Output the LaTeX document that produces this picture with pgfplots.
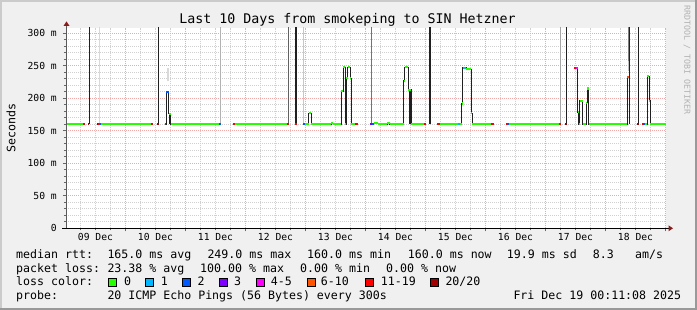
\documentclass[border=0pt]{standalone}
\usepackage{pgfplots}
\pgfplotsset{compat=1.18}
\usepackage{fontspec}
\setmainfont{DejaVu Sans Mono}
\definecolor{bgc}{HTML}{F0F0F0}
\definecolor{shadea}{HTML}{CBCBCB}
\definecolor{shadeb}{HTML}{999999}
\definecolor{arrowc}{HTML}{8B1A1A}
\definecolor{l0}{HTML}{26FF00}
\definecolor{l1}{HTML}{00B8FF}
\definecolor{l2}{HTML}{0059FF}
\definecolor{l3}{HTML}{7E00FF}
\definecolor{l4}{HTML}{FF00FF}
\definecolor{l6}{HTML}{FF5500}
\definecolor{l11}{HTML}{FF0000}
\definecolor{l20}{HTML}{A10000}
\definecolor{medc}{HTML}{202020}
\definecolor{mgrid}{HTML}{F0A8A8}
\definecolor{sgrid}{HTML}{D0D0D0}
\newcommand{\legfont}{\fontsize{11.6}{13}\selectfont}
\newcommand{\tickfont}{\fontsize{9.7}{11}\selectfont}
\begin{document}
\begin{tikzpicture}
\fill[bgc] (0pt,0pt) rectangle (697pt,310pt);
\fill[shadea] (0pt,0pt) rectangle (2pt,310pt);
\fill[shadea] (0pt,308pt) rectangle (697pt,310pt);
\fill[shadeb] (695pt,0pt) rectangle (697pt,310pt);
\fill[shadeb] (0pt,0pt) rectangle (697pt,2pt);
\fill[white] (66pt,81.7pt) rectangle (666pt,282.3pt);
\begin{axis}[
  at={(66pt,81.7pt)}, anchor=south west,
  scale only axis, width=600pt, height=200.6pt,
  xmin=0.2, xmax=240.2, ymin=0, ymax=308.6,
  axis line style={draw=none},
  unbounded coords=jump,
  xtick={24,48,...,240}, xticklabels={},
  minor xtick={6,12,18,30,36,42,54,60,66,78,84,90,102,108,114,126,132,138,150,156,162,174,180,186,198,204,210,222,228,234},
  extra x ticks={12,36,...,228},
  extra x tick labels={09 Dec,10 Dec,11 Dec,12 Dec,13 Dec,14 Dec,15 Dec,16 Dec,17 Dec,18 Dec},
  extra x tick style={grid=none, major tick length=0pt},
  ytick={0,50,...,300},
  yticklabels={0,50 m,100 m,150 m,200 m,250 m,300 m},
  minor ytick={10,20,30,40,60,70,80,90,110,120,130,140,160,170,180,190,210,220,230,240,260,270,280,290},
  grid=both,
  major grid style={color=mgrid, dash pattern=on 1pt off 1pt, line width=0.7pt},
  minor grid style={color=sgrid, dash pattern=on 1pt off 1pt, line width=0.7pt},
  xtick pos=bottom, ytick pos=left,
  tick align=outside,
  major tick length=3pt, minor tick length=2pt,
  tick style={black!60, line width=0.6pt},
  xticklabel style={font=\tickfont, inner sep=0pt, anchor=north, yshift=-5pt},
  yticklabel style={font=\tickfont, inner sep=0pt, anchor=east, xshift=-6pt},
]
% smoke (grey)
\addplot[black!15, line width=1.2pt] coordinates {(13.6,160)(13.6,400)};
\addplot[black!15, line width=1.7pt] coordinates {(40.92,226)(40.92,247)};
\addplot[black!30, line width=1pt] coordinates {(62.0,160)(62.0,400)};
\addplot[black!62, line width=1pt] coordinates {(89.12,160)(89.12,400)};
\addplot[black!22, line width=1pt] coordinates {(95.2,160)(95.2,400)};
\addplot[black!55, line width=1pt] coordinates {(122.32,160)(122.32,400)};
\addplot[black!35, line width=1pt] coordinates {(198.08,160)(198.08,400)};
\addplot[black!25, line width=1.7pt] coordinates {(225.2,242)(225.2,258)};
\addplot[black!50, line width=1pt] coordinates {(225.32,258)(225.32,400)};
% median line
\addplot[medc, line width=0.8pt, const plot mark left] coordinates {
(0.6,160)(7.8,160)(7.8,nan)
(9.0,160)(9.52,160)(9.52,nan)
(12.6,160)(35.0,160)(35.0,nan)
(36.6,160)(37.2,160)(37.2,nan)
(39.6,160)(40.2,210)(41.2,176)(42.08,160)(62.2,160)(62.2,nan)
(66.88,160)(89.28,160)(89.28,nan)
(91.68,160)(92.48,160)(92.48,nan)
(95.0,160)(97.28,177)(98.2,160)(106.2,162)(107.0,160)(110.2,211)(111.12,248)(111.92,160)(112.32,231)(112.88,248)(113.8,231)(114.32,160)(116.88,160)(116.88,nan)
(121.92,160)(123.28,162)(125.0,160)(128.6,162)(129.68,160)(135.28,227)(135.68,248)(137.0,213)(138.2,160)(144.2,160)(144.2,nan)
(148.6,160)(158.4,192)(158.88,247)(160.2,245)(162.2,177)(162.6,160)(171.28,160)(171.28,nan)
(176.2,160)(198.2,160)(198.2,nan)
(199.8,160)(200.4,160)(200.4,nan)
(203.52,247)(204.88,179)(205.28,160)(205.68,196)(206.88,160)(208.2,193)(208.6,215)(209.28,160)(224.6,233)(225.28,233)(225.28,nan)
(228.6,160)(229.2,160)(229.2,nan)
(230.6,160)(232.6,234)(233.52,196)(233.92,160)(240.2,160)
};
% dense dark part
\addplot[medc, line width=0.8pt] coordinates {(137.4,160)(137.4,213)(137.4,nan)(137.8,160)(137.8,213)(137.8,nan)(41.6,160)(41.6,176)(41.6,nan)(224.9,160)(224.9,233)};
% spikes
\addplot[medc, line width=1.3pt] coordinates {(9.52,160)(9.52,400)(9.52,nan)(37.2,160)(37.2,400)(37.2,nan)(200.4,160)(200.4,400)(200.4,nan)(225.52,160)(225.52,400)(225.52,nan)(229.2,160)(229.2,400)};
\addplot[medc, line width=2.3pt] coordinates {(92.08,160)(92.08,400)(92.08,nan)(145.72,160)(145.72,400)};
% loss colour bands
\addplot[l0, line width=2.3pt] coordinates {
(0.6,160)(6.88,160)(6.88,nan)
(14.08,160)(34.32,160)(34.32,nan)
(41.2,176)(42.08,176)(42.08,nan)
(42.08,160)(61.52,160)(61.52,nan)
(67.92,160)(88.6,160)(88.6,nan)
(95.92,160)(97.28,160)(97.28,nan)
(97.28,177)(98.2,177)(98.2,nan)
(98.2,160)(106.2,160)(106.2,nan)
(106.2,162)(107.0,162)(107.0,nan)
(107.0,160)(110.2,160)(110.2,nan)
(110.2,211)(111.12,211)(111.12,nan)
(111.12,248)(111.92,248)(111.92,nan)
(111.92,160)(112.32,160)(112.32,nan)
(112.32,231)(112.88,231)(112.88,nan)
(112.88,248)(113.8,248)(113.8,nan)
(113.8,231)(114.32,231)(114.32,nan)
(114.32,160)(115.92,160)(115.92,nan)
(123.28,162)(125.0,162)(125.0,nan)
(125.0,160)(128.6,160)(128.6,nan)
(128.6,162)(129.68,162)(129.68,nan)
(129.68,160)(135.28,160)(135.28,nan)
(135.28,227)(135.68,227)(135.68,nan)
(135.68,248)(137.0,248)(137.0,nan)
(137.0,213)(138.2,213)(138.2,nan)
(138.2,160)(143.28,160)(143.28,nan)
(149.92,160)(157.0,160)(157.0,nan)
(157.92,160)(158.4,160)(158.4,nan)
(158.4,192)(158.88,192)(158.88,nan)
(160.2,245)(162.2,245)(162.2,nan)
(162.2,177)(162.6,177)(162.6,nan)
(162.6,160)(170.32,160)(170.32,nan)
(177.28,160)(197.28,160)(197.28,nan)
(204.88,179)(205.28,179)(205.28,nan)
(205.28,160)(205.68,160)(205.68,nan)
(205.68,196)(206.88,196)(206.88,nan)
(206.88,160)(208.2,160)(208.2,nan)
(208.2,193)(208.6,193)(208.6,nan)
(208.6,215)(209.28,215)(209.28,nan)
(209.28,160)(224.6,160)(224.6,nan)
(231.92,160)(232.6,160)(232.6,nan)
(232.6,234)(233.52,234)(233.52,nan)
(233.52,196)(233.92,196)(233.92,nan)
(233.92,160)(240.2,160)
};
\addplot[l11, line width=2.3pt] coordinates {
(7.28,160)(7.8,160)(7.8,nan)
(13.0,160)(13.52,160)(13.52,nan)
(34.32,160)(35.0,160)(35.0,nan)
(39.6,160)(40.2,160)(40.2,nan)
(61.52,160)(61.86,160)(61.86,nan)
(66.88,160)(67.92,160)(67.92,nan)
(88.6,160)(89.28,160)(89.28,nan)
(91.68,160)(92.48,160)(92.48,nan)
(95.0,160)(95.28,160)(95.28,nan)
(115.92,160)(116.4,160)(116.4,nan)
(143.28,160)(144.2,160)(144.2,nan)
(148.6,160)(149.92,160)(149.92,nan)
(170.32,160)(171.28,160)(171.28,nan)
(176.2,160)(176.7,160)(176.7,nan)
(197.7,160)(198.2,160)(198.2,nan)
(203.52,247)(204.2,247)(204.2,nan)
(230.6,160)(231.2,160)
};
\addplot[l20, line width=2.3pt] coordinates {
(9.0,160)(9.52,160)(9.52,nan)
(12.6,160)(13.0,160)(13.0,nan)
(36.6,160)(37.2,160)(37.2,nan)
(199.8,160)(200.4,160)(200.4,nan)
(228.6,160)(229.2,160)
};
\addplot[l2, line width=2.3pt] coordinates {
(6.88,160)(7.28,160)(7.28,nan)
(13.52,160)(14.08,160)(14.08,nan)
(40.2,210)(41.2,210)(41.2,nan)
(61.86,160)(62.2,160)(62.2,nan)
(95.28,160)(95.92,160)(95.92,nan)
(116.4,160)(116.88,160)(116.88,nan)
(122.4,160)(123.28,160)(123.28,nan)
(176.7,160)(177.28,160)(177.28,nan)
(197.28,160)(197.7,160)(197.7,nan)
(231.2,160)(231.92,160)
};
\addplot[l1, line width=2.3pt] coordinates {(157.0,160)(157.92,160)(157.92,nan)(158.88,247)(160.2,247)};
\addplot[l3, line width=2.3pt] coordinates {(121.92,160)(122.4,160)};
\addplot[l4, line width=2.3pt] coordinates {(204.2,247)(204.88,247)};
\addplot[l6, line width=2.3pt] coordinates {(224.6,233)(225.28,233)};
\end{axis}
% axis lines and arrows
\draw[black!65, line width=0.8pt] (66.5pt,81.7pt) -- (66.5pt,285pt);
\fill[arrowc] (63.5pt,284pt) -- (69.5pt,284pt) -- (66.5pt,288.5pt) -- cycle;
\draw[black, line width=0.8pt] (62pt,81.7pt) -- (669pt,81.7pt);
\fill[arrowc] (668.5pt,78.7pt) -- (668.5pt,84.7pt) -- (673pt,81.7pt) -- cycle;
% texts
\node[anchor=base, inner sep=0pt, font=\fontsize{13.3}{15}\selectfont] at (347.5pt,286pt) {Last 10 Days from smokeping to SIN Hetzner};
\node[rotate=90, inner sep=0pt, font=\legfont] at (11pt,182pt) {Seconds};
\node[rotate=-90, inner sep=0pt, text=black!30, font=\fontsize{8.3}{9}\selectfont] at (687pt,250pt) {RRDTOOL / TOBI OETIKER};
\begin{scope}[every node/.style={anchor=base west, inner sep=0pt, font=\legfont}]
\node at (16pt,51.7pt) {median rtt:};
\node at (107.3pt,51.7pt) {165.0 ms avg};
\node at (207.3pt,51.7pt) {249.0 ms max};
\node at (307pt,51.7pt) {160.0 ms min};
\node at (407.7pt,51.7pt) {160.0 ms now};
\node at (506.7pt,51.7pt) {19.9 ms sd};
\node at (592.7pt,51.7pt) {8.3};
\node at (635pt,51.7pt) {am/s};
\node at (16pt,37.9pt) {packet loss:};
\node at (107.3pt,37.9pt) {23.38 \% avg};
\node at (200pt,37.9pt) {100.00 \% max};
\node at (300pt,37.9pt) {0.00 \% min};
\node at (386pt,37.9pt) {0.00 \% now};
\node at (16pt,24.1pt) {loss color:};
\node at (124pt,24.1pt) {0};
\node at (160.7pt,24.1pt) {1};
\node at (197.3pt,24.1pt) {2};
\node at (234pt,24.1pt) {3};
\node at (270.7pt,24.1pt) {4-5};
\node at (320.7pt,24.1pt) {6-10};
\node at (380.7pt,24.1pt) {11-19};
\node at (445.3pt,24.1pt) {20/20};
\node at (16pt,10.3pt) {probe:};
\node at (107.3pt,10.3pt) {20 ICMP Echo Pings (56 Bytes) every 300s};
\node at (513.3pt,10.3pt) {Fri Dec 19 00:11:08 2025};
\end{scope}
\begin{scope}[line width=0.8pt]
\filldraw[fill=l0] (108.7pt,23.5pt) rectangle ++(8pt,8.2pt);
\filldraw[fill=l1] (145.7pt,23.5pt) rectangle ++(8pt,8.2pt);
\filldraw[fill=l2] (182.7pt,23.5pt) rectangle ++(8pt,8.2pt);
\filldraw[fill=l3] (219.3pt,23.5pt) rectangle ++(8pt,8.2pt);
\filldraw[fill=l4] (256.7pt,23.5pt) rectangle ++(8pt,8.2pt);
\filldraw[fill=l6] (307.3pt,23.5pt) rectangle ++(8pt,8.2pt);
\filldraw[fill=l11] (365.7pt,23.5pt) rectangle ++(8pt,8.2pt);
\filldraw[fill=l20] (430.7pt,23.5pt) rectangle ++(8pt,8.2pt);
\end{scope}
\end{tikzpicture}
\end{document}
